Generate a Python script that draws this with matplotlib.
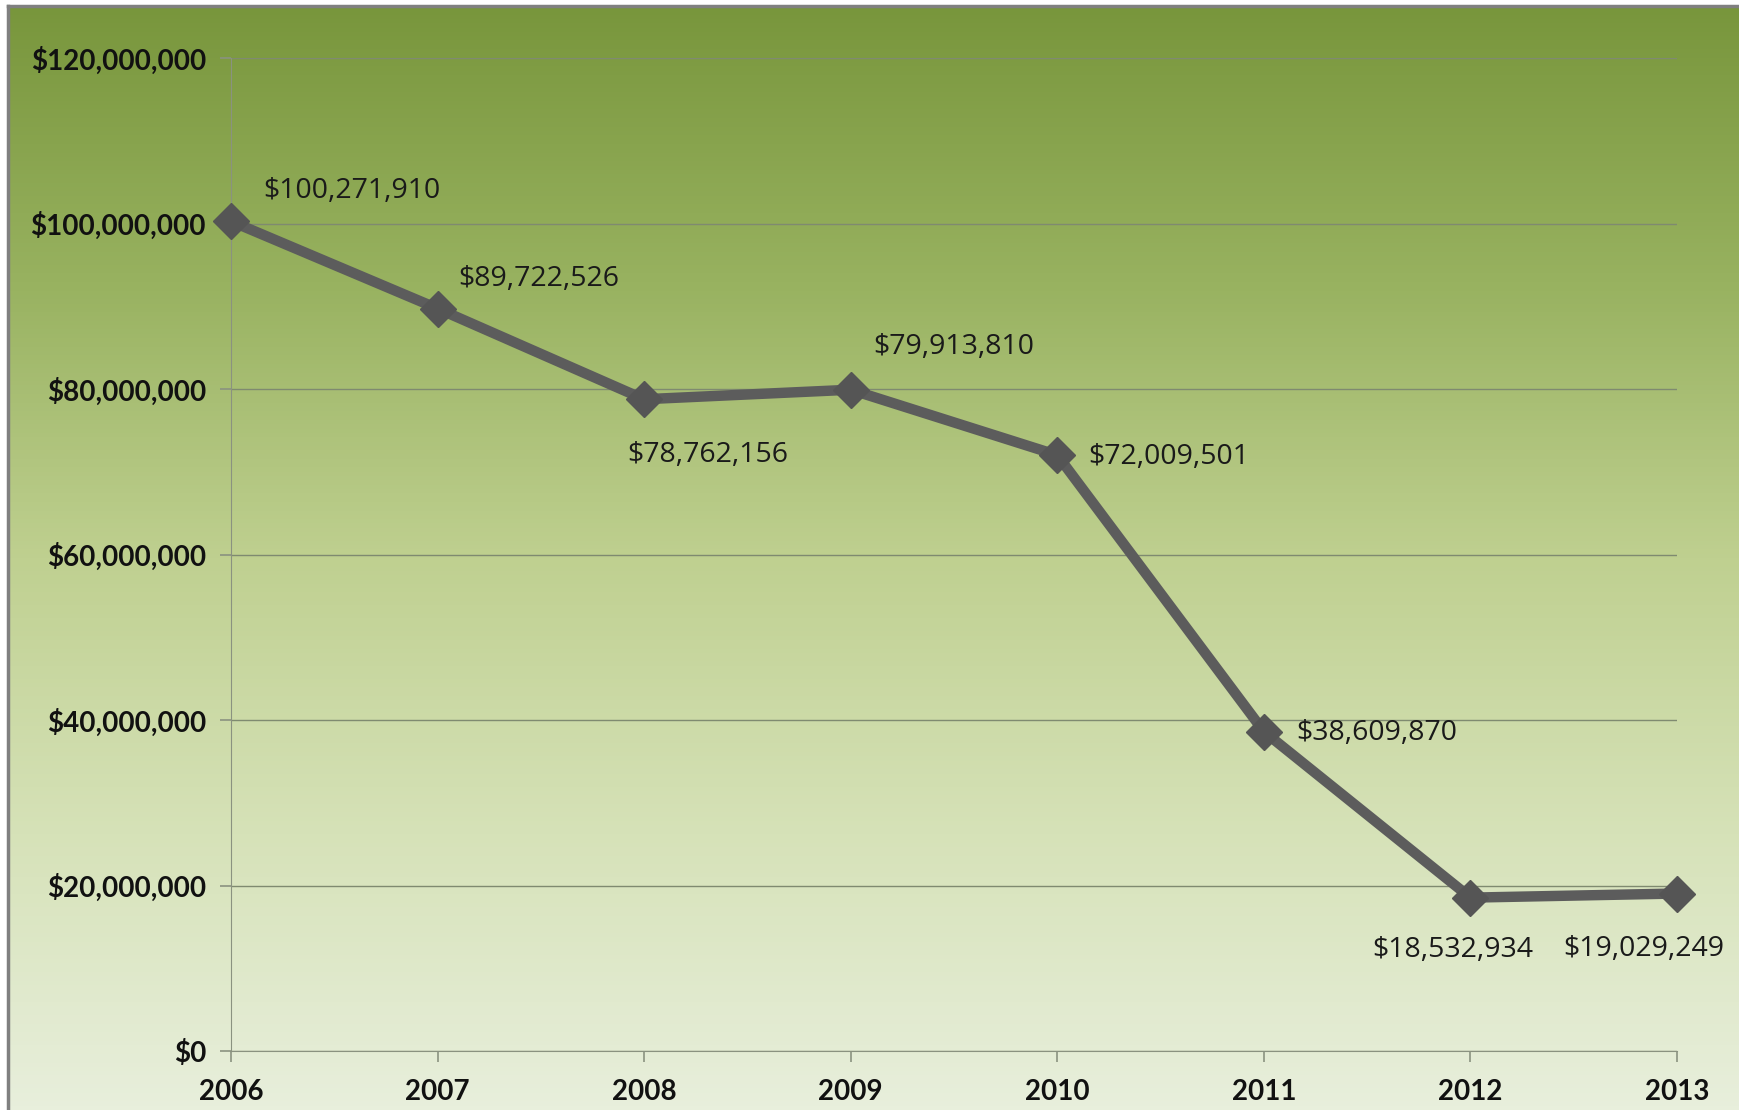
import matplotlib
matplotlib.use("Agg")
import matplotlib.pyplot as plt
import numpy as np
from matplotlib.colors import LinearSegmentedColormap
from matplotlib.ticker import FuncFormatter

years = ["2006", "2007", "2008", "2009", "2010", "2011", "2012", "2013"]
values = [100271910, 89722526, 78762156, 79913810, 72009501, 38609870, 18532934, 19029249]

# data label placement: offset in points from the marker, and horizontal alignment
label_offsets = [(23, 22), (15, 21), (46, -40), (16, 31), (22, -1), (23, -1), (-13, -38), (-24, -40)]
label_ha = ["left", "left", "center", "left", "left", "left", "center", "center"]

W, H = 1739, 1110
fig = plt.figure(figsize=(W / 100, H / 100), dpi=100)
fig.patch.set_facecolor("white")

# background gradient (dark green top -> pale bottom)
bg = fig.add_axes([8 / W, 0, 1 - 8 / W, 1 - 6 / H], zorder=-5)
grad_cmap = LinearSegmentedColormap.from_list(
    "bg", [(0.0, "#78963c"), (0.25, "#98b260"), (0.5, "#bfd090"),
           (0.75, "#d6e2b8"), (1.0, "#e8efdc")])
bg.imshow(np.linspace(0, 1, 256).reshape(-1, 1), aspect="auto", cmap=grad_cmap,
          extent=[0, 1, 0, 1], origin="upper")
bg.set_xlim(0, 1)
bg.set_ylim(0, 1)
bg.set_xticks([])
bg.set_yticks([])
for side in ["right", "bottom"]:
    bg.spines[side].set_visible(False)
for side in ["left", "top"]:
    bg.spines[side].set_color("#808080")
    bg.spines[side].set_linewidth(2.5)

ax = fig.add_axes([231 / W, 1 - 1051 / H, (1677 - 231) / W, (1051 - 58) / H])
ax.set_facecolor("none")

x = np.arange(len(years))
ax.plot(x, values, color="#5c5c5c", linewidth=7.5, marker="D", markersize=18,
        markerfacecolor="#555555", markeredgecolor="#555555", zorder=3, clip_on=False)

ax.set_xlim(0, len(years) - 1)
ax.set_ylim(0, 120000000)
ax.set_yticks(np.arange(0, 120000001, 20000000))
ax.set_xticks(x)
ax.set_xticklabels(years)
ax.yaxis.set_major_formatter(FuncFormatter(lambda v, p: f"${v:,.0f}"))

ax.grid(axis="y", color="#7f8a70", linewidth=1.0)
ax.grid(axis="x", visible=False)
for side in ["top", "right"]:
    ax.spines[side].set_visible(False)
ax.spines["left"].set_color("#8a9280")
ax.spines["bottom"].set_color("#8a9280")
ax.tick_params(axis="both", colors="#8a9280", length=8, width=1.2,
               labelcolor="#111111", labelsize=20)
ax.tick_params(axis="x", pad=12)
ax.tick_params(axis="y", pad=10)
for lab in ax.get_xticklabels() + ax.get_yticklabels():
    lab.set_fontweight("bold")
    lab.set_family("Lato")

for xi, v, off, ha in zip(x, values, label_offsets, label_ha):
    ax.annotate(f"${v:,}", (xi, v), xytext=off, textcoords="offset points",
                ha=ha, va="center", fontsize=20.5, color="#1a1a1a", family="Open Sans")

fig.savefig("out.png", dpi=100)
